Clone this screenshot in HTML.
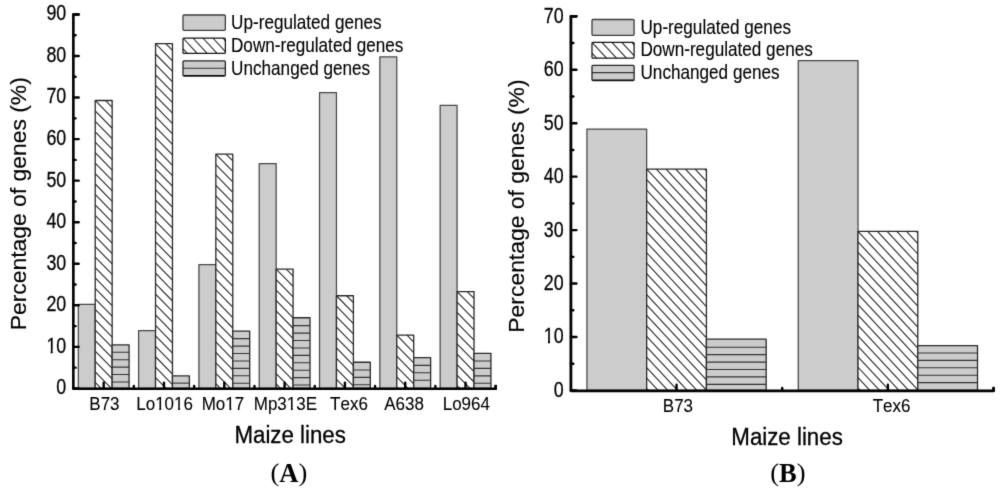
<!DOCTYPE html>
<html><head><meta charset="utf-8"><style>
html,body{margin:0;padding:0;background:#fff;}
body{width:1000px;height:490px;overflow:hidden;}
svg{display:block;}
</style></head><body>
<svg width="1000" height="490" viewBox="0 0 1000 490">
<defs><filter id="bl" x="0" y="0" width="1000" height="490" filterUnits="userSpaceOnUse" color-interpolation-filters="sRGB"><feConvolveMatrix order="3" kernelMatrix="0.01134 0.08382 0.01134 0.08382 0.61935 0.08382 0.01134 0.08382 0.01134" edgeMode="duplicate" preserveAlpha="true"/></filter></defs><g filter="url(#bl)">
<rect width="1000" height="490" fill="#fff"/>
<rect x="78.29" y="304.48" width="16.93" height="83.92" fill="#cccccc" stroke="#474747" stroke-width="1.25" stroke-linejoin="round"/>
<rect x="95.22" y="100.48" width="16.93" height="287.92" fill="#fff"/><path d="M95.22,382.35L101.12,388.40M95.22,371.91L111.32,388.40M95.22,361.47L112.15,378.80M95.22,351.03L112.15,368.36M95.22,340.59L112.15,357.92M95.22,330.15L112.15,347.48M95.22,319.71L112.15,337.04M95.22,309.27L112.15,326.60M95.22,298.83L112.15,316.16M95.22,288.39L112.15,305.72M95.22,277.95L112.15,295.28M95.22,267.51L112.15,284.84M95.22,257.07L112.15,274.40M95.22,246.64L112.15,263.96M95.22,236.20L112.15,253.52M95.22,225.76L112.15,243.08M95.22,215.32L112.15,232.64M95.22,204.88L112.15,222.20M95.22,194.44L112.15,211.76M95.22,184.00L112.15,201.32M95.22,173.56L112.15,190.89M95.22,163.12L112.15,180.45M95.22,152.68L112.15,170.01M95.22,142.24L112.15,159.57M95.22,131.80L112.15,149.13M95.22,121.36L112.15,138.69M95.22,110.92L112.15,128.25M95.22,100.48L112.15,117.81M105.42,100.48L112.15,107.37" stroke="#262626" stroke-width="1.08" fill="none"/><rect x="95.22" y="100.48" width="16.93" height="287.92" fill="none" stroke="#2a2a2a" stroke-width="1.3" stroke-linejoin="round"/>
<rect x="112.15" y="344.78" width="16.93" height="43.62" fill="#cccccc"/><path d="M112.15,352.28H129.08M112.15,359.70H129.08M112.15,367.12H129.08M112.15,374.54H129.08M112.15,381.96H129.08" stroke="#333333" stroke-width="1.1" fill="none"/><rect x="112.15" y="344.78" width="16.93" height="43.62" fill="none" stroke="#2a2a2a" stroke-width="1.3" stroke-linejoin="round"/>
<rect x="138.59" y="330.65" width="16.93" height="57.75" fill="#cccccc" stroke="#474747" stroke-width="1.25" stroke-linejoin="round"/>
<rect x="155.53" y="43.56" width="16.93" height="344.84" fill="#fff"/><path d="M155.53,388.07L155.85,388.40M155.53,377.63L166.05,388.40M155.53,367.19L172.46,384.52M155.53,356.75L172.46,374.08M155.53,346.31L172.46,363.64M155.53,335.87L172.46,353.20M155.53,325.43L172.46,342.76M155.53,314.99L172.46,332.32M155.53,304.55L172.46,321.88M155.53,294.11L172.46,311.44M155.53,283.67L172.46,301.00M155.53,273.23L172.46,290.56M155.53,262.79L172.46,280.12M155.53,252.35L172.46,269.68M155.53,241.91L172.46,259.24M155.53,231.47L172.46,248.80M155.53,221.03L172.46,238.36M155.53,210.60L172.46,227.92M155.53,200.16L172.46,217.48M155.53,189.72L172.46,207.04M155.53,179.28L172.46,196.60M155.53,168.84L172.46,186.16M155.53,158.40L172.46,175.72M155.53,147.96L172.46,165.28M155.53,137.52L172.46,154.85M155.53,127.08L172.46,144.41M155.53,116.64L172.46,133.97M155.53,106.20L172.46,123.53M155.53,95.76L172.46,113.09M155.53,85.32L172.46,102.65M155.53,74.88L172.46,92.21M155.53,64.44L172.46,81.77M155.53,54.00L172.46,71.33M155.53,43.56L172.46,60.89M165.72,43.56L172.46,50.45" stroke="#262626" stroke-width="1.08" fill="none"/><rect x="155.53" y="43.56" width="16.93" height="344.84" fill="none" stroke="#2a2a2a" stroke-width="1.3" stroke-linejoin="round"/>
<rect x="172.46" y="375.94" width="16.93" height="12.46" fill="#cccccc"/><path d="M172.46,383.14H189.39" stroke="#333333" stroke-width="1.1" fill="none"/><rect x="172.46" y="375.94" width="16.93" height="12.46" fill="none" stroke="#2a2a2a" stroke-width="1.3" stroke-linejoin="round"/>
<rect x="198.91" y="264.59" width="16.93" height="123.81" fill="#cccccc" stroke="#474747" stroke-width="1.25" stroke-linejoin="round"/>
<rect x="215.84" y="154.07" width="16.93" height="234.33" fill="#fff"/><path d="M215.84,383.75L220.38,388.40M215.84,373.31L230.58,388.40M215.84,362.87L232.77,380.20M215.84,352.43L232.77,369.76M215.84,341.99L232.77,359.32M215.84,331.55L232.77,348.88M215.84,321.11L232.77,338.44M215.84,310.67L232.77,328.00M215.84,300.23L232.77,317.56M215.84,289.79L232.77,307.12M215.84,279.35L232.77,296.68M215.84,268.91L232.77,286.24M215.84,258.47L232.77,275.80M215.84,248.03L232.77,265.36M215.84,237.59L232.77,254.92M215.84,227.15L232.77,244.48M215.84,216.71L232.77,234.04M215.84,206.27L232.77,223.60M215.84,195.83L232.77,213.16M215.84,185.39L232.77,202.72M215.84,174.95L232.77,192.28M215.84,164.51L232.77,181.84M215.84,154.07L232.77,171.40M226.03,154.07L232.77,160.96" stroke="#262626" stroke-width="1.08" fill="none"/><rect x="215.84" y="154.07" width="16.93" height="234.33" fill="none" stroke="#2a2a2a" stroke-width="1.3" stroke-linejoin="round"/>
<rect x="232.77" y="331.07" width="16.93" height="57.33" fill="#cccccc"/><path d="M232.77,338.67H249.70M232.77,346.09H249.70M232.77,353.51H249.70M232.77,360.93H249.70M232.77,368.35H249.70M232.77,375.77H249.70M232.77,383.19H249.70" stroke="#333333" stroke-width="1.1" fill="none"/><rect x="232.77" y="331.07" width="16.93" height="57.33" fill="none" stroke="#2a2a2a" stroke-width="1.3" stroke-linejoin="round"/>
<rect x="259.22" y="163.63" width="16.93" height="224.77" fill="#cccccc" stroke="#474747" stroke-width="1.25" stroke-linejoin="round"/>
<rect x="276.15" y="269.16" width="16.93" height="119.24" fill="#fff"/><path d="M276.15,384.00L280.45,388.40M276.15,373.56L290.65,388.40M276.15,363.12L293.07,380.45M276.15,352.68L293.07,370.01M276.15,342.24L293.07,359.57M276.15,331.80L293.07,349.13M276.15,321.36L293.07,338.69M276.15,310.92L293.07,328.25M276.15,300.48L293.07,317.81M276.15,290.04L293.07,307.37M276.15,279.60L293.07,296.93M276.15,269.16L293.07,286.49M286.35,269.16L293.07,276.05" stroke="#262626" stroke-width="1.08" fill="none"/><rect x="276.15" y="269.16" width="16.93" height="119.24" fill="none" stroke="#2a2a2a" stroke-width="1.3" stroke-linejoin="round"/>
<rect x="293.07" y="317.77" width="16.93" height="70.63" fill="#cccccc"/><path d="M293.07,325.67H310.00M293.07,333.09H310.00M293.07,340.51H310.00M293.07,347.93H310.00M293.07,355.35H310.00M293.07,362.77H310.00M293.07,370.19H310.00M293.07,377.61H310.00M293.07,385.03H310.00" stroke="#333333" stroke-width="1.1" fill="none"/><rect x="293.07" y="317.77" width="16.93" height="70.63" fill="none" stroke="#2a2a2a" stroke-width="1.3" stroke-linejoin="round"/>
<rect x="319.53" y="92.59" width="16.93" height="295.81" fill="#cccccc" stroke="#474747" stroke-width="1.25" stroke-linejoin="round"/>
<rect x="336.46" y="295.75" width="16.93" height="92.65" fill="#fff"/><path d="M336.46,379.27L345.38,388.40M336.46,368.83L353.38,386.16M336.46,358.39L353.38,375.72M336.46,347.95L353.38,365.28M336.46,337.51L353.38,354.84M336.46,327.07L353.38,344.40M336.46,316.63L353.38,333.96M336.46,306.19L353.38,323.52M336.46,295.75L353.38,313.08M346.66,295.75L353.38,302.64" stroke="#262626" stroke-width="1.08" fill="none"/><rect x="336.46" y="295.75" width="16.93" height="92.65" fill="none" stroke="#2a2a2a" stroke-width="1.3" stroke-linejoin="round"/>
<rect x="353.38" y="362.23" width="16.93" height="26.17" fill="#cccccc"/><path d="M353.38,369.93H370.31M353.38,377.35H370.31M353.38,384.77H370.31" stroke="#333333" stroke-width="1.1" fill="none"/><rect x="353.38" y="362.23" width="16.93" height="26.17" fill="none" stroke="#2a2a2a" stroke-width="1.3" stroke-linejoin="round"/>
<rect x="379.84" y="56.85" width="16.93" height="331.55" fill="#cccccc" stroke="#474747" stroke-width="1.25" stroke-linejoin="round"/>
<rect x="396.77" y="335.22" width="16.93" height="53.18" fill="#fff"/><path d="M396.77,387.42L397.72,388.40M396.77,376.98L407.92,388.40M396.77,366.54L413.69,383.87M396.77,356.10L413.69,373.43M396.77,345.66L413.69,362.99M396.77,335.22L413.69,352.55M406.97,335.22L413.69,342.11" stroke="#262626" stroke-width="1.08" fill="none"/><rect x="396.77" y="335.22" width="16.93" height="53.18" fill="none" stroke="#2a2a2a" stroke-width="1.3" stroke-linejoin="round"/>
<rect x="413.69" y="357.66" width="16.93" height="30.74" fill="#cccccc"/><path d="M413.69,365.36H430.62M413.69,372.78H430.62M413.69,380.20H430.62" stroke="#333333" stroke-width="1.1" fill="none"/><rect x="413.69" y="357.66" width="16.93" height="30.74" fill="none" stroke="#2a2a2a" stroke-width="1.3" stroke-linejoin="round"/>
<rect x="440.15" y="105.46" width="16.93" height="282.94" fill="#cccccc" stroke="#474747" stroke-width="1.25" stroke-linejoin="round"/>
<rect x="457.08" y="291.60" width="16.93" height="96.80" fill="#fff"/><path d="M457.08,385.55L459.86,388.40M457.08,375.11L470.06,388.40M457.08,364.67L474.00,382.00M457.08,354.23L474.00,371.56M457.08,343.79L474.00,361.12M457.08,333.35L474.00,350.68M457.08,322.91L474.00,340.24M457.08,312.47L474.00,329.80M457.08,302.04L474.00,319.36M457.08,291.60L474.00,308.92M467.28,291.60L474.00,298.48" stroke="#262626" stroke-width="1.08" fill="none"/><rect x="457.08" y="291.60" width="16.93" height="96.80" fill="none" stroke="#2a2a2a" stroke-width="1.3" stroke-linejoin="round"/>
<rect x="474.00" y="353.29" width="16.93" height="35.11" fill="#cccccc"/><path d="M474.00,360.99H490.94M474.00,368.41H490.94M474.00,375.83H490.94M474.00,383.25H490.94" stroke="#333333" stroke-width="1.1" fill="none"/><rect x="474.00" y="353.29" width="16.93" height="35.11" fill="none" stroke="#2a2a2a" stroke-width="1.3" stroke-linejoin="round"/>
<path d="M78.60,14.48L73.35,14.48L73.35,388.80L495.69,388.80L495.69,386.10" stroke="#000" stroke-width="2.6" fill="none" stroke-linejoin="round" stroke-linecap="round"/>
<path d="M73.35,388.40H78.70M73.35,367.63H75.60M73.35,346.85H78.70M73.35,326.08H75.60M73.35,305.31H78.70M73.35,284.53H75.60M73.35,263.76H78.70M73.35,242.99H75.60M73.35,222.21H78.70M73.35,201.44H75.60M73.35,180.66H78.70M73.35,159.89H75.60M73.35,139.12H78.70M73.35,118.34H75.60M73.35,97.57H78.70M73.35,76.80H75.60M73.35,56.02H78.70M73.35,35.25H75.60M73.35,14.48H78.70M103.68,388.80V382.60M133.84,388.80V386.00M163.99,388.80V382.60M194.15,388.80V386.00M224.30,388.80V382.60M254.46,388.80V386.00M284.61,388.80V382.60M314.76,388.80V386.00M344.92,388.80V382.60M375.07,388.80V386.00M405.23,388.80V382.60M435.39,388.80V386.00M465.54,388.80V382.60M495.69,388.80V386.00" stroke="#000" stroke-width="2.4" fill="none" stroke-linecap="round"/>
<text transform="translate(56.35,394.25) scale(0.84,1.0)" font-family="Liberation Sans" font-size="21.3" style="font-kerning:none" fill="#000" stroke="#000" stroke-width="0.25">0</text>
<text transform="translate(46.40,352.70) scale(0.84,1.0)" font-family="Liberation Sans" font-size="21.3" style="font-kerning:none" fill="#000" stroke="#000" stroke-width="0.25">10</text>
<text transform="translate(46.40,311.16) scale(0.84,1.0)" font-family="Liberation Sans" font-size="21.3" style="font-kerning:none" fill="#000" stroke="#000" stroke-width="0.25">20</text>
<text transform="translate(46.40,269.61) scale(0.84,1.0)" font-family="Liberation Sans" font-size="21.3" style="font-kerning:none" fill="#000" stroke="#000" stroke-width="0.25">30</text>
<text transform="translate(46.40,228.06) scale(0.84,1.0)" font-family="Liberation Sans" font-size="21.3" style="font-kerning:none" fill="#000" stroke="#000" stroke-width="0.25">40</text>
<text transform="translate(46.40,186.51) scale(0.84,1.0)" font-family="Liberation Sans" font-size="21.3" style="font-kerning:none" fill="#000" stroke="#000" stroke-width="0.25">50</text>
<text transform="translate(46.40,144.97) scale(0.84,1.0)" font-family="Liberation Sans" font-size="21.3" style="font-kerning:none" fill="#000" stroke="#000" stroke-width="0.25">60</text>
<text transform="translate(46.40,103.42) scale(0.84,1.0)" font-family="Liberation Sans" font-size="21.3" style="font-kerning:none" fill="#000" stroke="#000" stroke-width="0.25">70</text>
<text transform="translate(46.40,61.87) scale(0.84,1.0)" font-family="Liberation Sans" font-size="21.3" style="font-kerning:none" fill="#000" stroke="#000" stroke-width="0.25">80</text>
<text transform="translate(46.40,20.33) scale(0.84,1.0)" font-family="Liberation Sans" font-size="21.3" style="font-kerning:none" fill="#000" stroke="#000" stroke-width="0.25">90</text>
<text transform="translate(89.34,410.10) scale(0.905,1.0)" font-family="Liberation Sans" font-size="18.8" style="font-kerning:none" fill="#000" stroke="#000" stroke-width="0.1">B73</text>
<text transform="translate(136.24,410.10) scale(0.905,1.0)" font-family="Liberation Sans" font-size="18.8" style="font-kerning:none" fill="#000" stroke="#000" stroke-width="0.1">Lo1016</text>
<text transform="translate(201.70,410.10) scale(0.905,1.0)" font-family="Liberation Sans" font-size="18.8" style="font-kerning:none" fill="#000" stroke="#000" stroke-width="0.1">Mo17</text>
<text transform="translate(253.73,410.10) scale(0.905,1.0)" font-family="Liberation Sans" font-size="18.8" style="font-kerning:none" fill="#000" stroke="#000" stroke-width="0.1">Mp313E</text>
<text transform="translate(330.12,410.10) scale(0.905,1.0)" font-family="Liberation Sans" font-size="18.8" style="font-kerning:none" fill="#000" stroke="#000" stroke-width="0.1">Tex6</text>
<text transform="translate(384.24,410.10) scale(0.905,1.0)" font-family="Liberation Sans" font-size="18.8" style="font-kerning:none" fill="#000" stroke="#000" stroke-width="0.1">A638</text>
<text transform="translate(442.70,410.10) scale(0.905,1.0)" font-family="Liberation Sans" font-size="18.8" style="font-kerning:none" fill="#000" stroke="#000" stroke-width="0.1">Lo964</text>
<text transform="translate(234.43,442.80) scale(0.91,1.0)" font-family="Liberation Sans" font-size="24.5" style="font-kerning:none" fill="#000" stroke="#000" stroke-width="0.3">Maize lines</text>
<text transform="translate(26.10,330.34) scale(0.955,1) rotate(-90)" font-family="Liberation Sans" font-size="22.9" style="font-kerning:none" stroke="#000" stroke-width="0.15">Percentage of genes (%)</text>
<rect x="183.00" y="15.00" width="42.35" height="15.35" fill="#cccccc" stroke="#3c3c3c" stroke-width="1.3" rx="1" stroke-linejoin="round"/>
<text transform="translate(231.08,28.85) scale(0.849,1.0)" font-family="Liberation Sans" font-size="20.2" style="font-kerning:none" fill="#000" stroke="#000" stroke-width="0.12">Up-regulated genes</text>
<rect x="183.00" y="38.00" width="42.35" height="15.45" fill="#fff" rx="1"/><path d="M183.00,48.85L187.22,53.45M183.00,38.00L197.17,53.45M192.95,38.00L207.12,53.45M202.90,38.00L217.07,53.45M212.85,38.00L225.35,51.62M222.80,38.00L225.35,40.78" stroke="#262626" stroke-width="1.08" fill="none"/><rect x="183.00" y="38.00" width="42.35" height="15.45" fill="none" stroke="#151515" stroke-width="1.25" rx="1" stroke-linejoin="round"/>
<text transform="translate(230.99,51.90) scale(0.849,1.0)" font-family="Liberation Sans" font-size="20.2" style="font-kerning:none" fill="#000" stroke="#000" stroke-width="0.12">Down-regulated genes</text>
<rect x="183.00" y="60.90" width="42.35" height="15.20" fill="#cccccc" rx="1"/><path d="M183.0,68.20H225.35" stroke="#333333" stroke-width="1.1"/><rect x="183.00" y="60.90" width="42.35" height="15.20" fill="none" stroke="#222" stroke-width="1.3" rx="1" stroke-linejoin="round"/><path d="M183.80,75.50H224.55" stroke="#000" stroke-width="1.2"/>
<text transform="translate(231.08,74.95) scale(0.849,1.0)" font-family="Liberation Sans" font-size="20.2" style="font-kerning:none" fill="#000" stroke="#000" stroke-width="0.12">Unchanged genes</text>
<text transform="translate(270.50,481.22) scale(1,0.92)" font-family="Liberation Serif" font-size="26.5">(</text>
<text x="279.32" y="482.10" font-family="Liberation Serif" font-weight="bold" font-size="26.5">A</text>
<text transform="translate(298.46,481.22) scale(1,0.92)" font-family="Liberation Serif" font-size="26.5">)</text>
<rect x="586.92" y="129.08" width="59.75" height="261.37" fill="#cccccc" stroke="#474747" stroke-width="1.25" stroke-linejoin="round"/>
<rect x="646.67" y="169.17" width="59.75" height="221.28" fill="#fff"/><path d="M646.67,388.56L648.43,390.45M646.67,378.11L658.13,390.45M646.67,367.66L667.83,390.45M646.67,357.22L677.53,390.45M646.67,346.77L687.23,390.45M646.67,336.32L696.93,390.45M646.67,325.87L706.42,390.23M646.67,315.43L706.42,379.78M646.67,304.98L706.42,369.33M646.67,294.53L706.42,358.88M646.67,284.09L706.42,348.44M646.67,273.64L706.42,337.99M646.67,263.19L706.42,327.54M646.67,252.75L706.42,317.10M646.67,242.30L706.42,306.65M646.67,231.85L706.42,296.20M646.67,221.41L706.42,285.76M646.67,210.96L706.42,275.31M646.67,200.51L706.42,264.86M646.67,190.06L706.42,254.42M646.67,179.62L706.42,243.97M646.67,169.17L706.42,233.52M656.38,169.17L706.42,223.07M666.07,169.17L706.42,212.63M675.77,169.17L706.42,202.18M685.47,169.17L706.42,191.73M695.17,169.17L706.42,181.29M704.88,169.17L706.42,170.84" stroke="#262626" stroke-width="1.08" fill="none"/><rect x="646.67" y="169.17" width="59.75" height="221.28" fill="none" stroke="#2a2a2a" stroke-width="1.3" stroke-linejoin="round"/>
<rect x="706.42" y="339.14" width="59.75" height="51.31" fill="#cccccc"/><path d="M706.42,347.24H766.17M706.42,354.66H766.17M706.42,362.08H766.17M706.42,369.50H766.17M706.42,376.92H766.17M706.42,384.34H766.17" stroke="#333333" stroke-width="1.1" fill="none"/><rect x="706.42" y="339.14" width="59.75" height="51.31" fill="none" stroke="#2a2a2a" stroke-width="1.3" stroke-linejoin="round"/>
<rect x="798.27" y="60.67" width="59.75" height="329.78" fill="#cccccc" stroke="#474747" stroke-width="1.25" stroke-linejoin="round"/>
<rect x="858.02" y="231.44" width="59.75" height="159.01" fill="#fff"/><path d="M858.02,388.14L860.17,390.45M858.02,377.70L869.87,390.45M858.02,367.25L879.57,390.45M858.02,356.80L889.27,390.45M858.02,346.36L898.97,390.45M858.02,335.91L908.67,390.45M858.02,325.46L917.77,389.81M858.02,315.01L917.77,379.37M858.02,304.57L917.77,368.92M858.02,294.12L917.77,358.47M858.02,283.67L917.77,348.02M858.02,273.23L917.77,337.58M858.02,262.78L917.77,327.13M858.02,252.33L917.77,316.68M858.02,241.89L917.77,306.24M858.02,231.44L917.77,295.79M867.73,231.44L917.77,285.34M877.42,231.44L917.77,274.90M887.12,231.44L917.77,264.45M896.82,231.44L917.77,254.00M906.52,231.44L917.77,243.56M916.23,231.44L917.77,233.11" stroke="#262626" stroke-width="1.08" fill="none"/><rect x="858.02" y="231.44" width="59.75" height="159.01" fill="none" stroke="#2a2a2a" stroke-width="1.3" stroke-linejoin="round"/>
<rect x="917.77" y="345.55" width="59.75" height="44.90" fill="#cccccc"/><path d="M917.77,352.95H977.52M917.77,360.37H977.52M917.77,367.79H977.52M917.77,375.21H977.52M917.77,382.63H977.52" stroke="#333333" stroke-width="1.1" fill="none"/><rect x="917.77" y="345.55" width="59.75" height="44.90" fill="none" stroke="#2a2a2a" stroke-width="1.3" stroke-linejoin="round"/>
<path d="M576.25,16.31L570.90,16.31L570.90,390.85L993.57,390.85L993.57,388.25" stroke="#000" stroke-width="2.8" fill="none" stroke-linejoin="round" stroke-linecap="round"/>
<path d="M570.90,390.45H576.45M570.90,363.73H573.35M570.90,337.00H576.45M570.90,310.28H573.35M570.90,283.55H576.45M570.90,256.83H573.35M570.90,230.10H576.45M570.90,203.38H573.35M570.90,176.65H576.45M570.90,149.93H573.35M570.90,123.20H576.45M570.90,96.48H573.35M570.90,69.76H576.45M570.90,43.03H573.35M570.90,16.31H576.45M676.55,390.85V384.65M782.22,390.85V388.05M887.90,390.85V384.65M993.57,390.85V388.05" stroke="#000" stroke-width="2.4" fill="none" stroke-linecap="round"/>
<text transform="translate(553.65,396.85) scale(0.84,1.0)" font-family="Liberation Sans" font-size="21.3" style="font-kerning:none" fill="#000" stroke="#000" stroke-width="0.25">0</text>
<text transform="translate(543.70,343.40) scale(0.84,1.0)" font-family="Liberation Sans" font-size="21.3" style="font-kerning:none" fill="#000" stroke="#000" stroke-width="0.25">10</text>
<text transform="translate(543.70,289.95) scale(0.84,1.0)" font-family="Liberation Sans" font-size="21.3" style="font-kerning:none" fill="#000" stroke="#000" stroke-width="0.25">20</text>
<text transform="translate(543.70,236.50) scale(0.84,1.0)" font-family="Liberation Sans" font-size="21.3" style="font-kerning:none" fill="#000" stroke="#000" stroke-width="0.25">30</text>
<text transform="translate(543.70,183.05) scale(0.84,1.0)" font-family="Liberation Sans" font-size="21.3" style="font-kerning:none" fill="#000" stroke="#000" stroke-width="0.25">40</text>
<text transform="translate(543.70,129.60) scale(0.84,1.0)" font-family="Liberation Sans" font-size="21.3" style="font-kerning:none" fill="#000" stroke="#000" stroke-width="0.25">50</text>
<text transform="translate(543.70,76.16) scale(0.84,1.0)" font-family="Liberation Sans" font-size="21.3" style="font-kerning:none" fill="#000" stroke="#000" stroke-width="0.25">60</text>
<text transform="translate(543.70,22.71) scale(0.84,1.0)" font-family="Liberation Sans" font-size="21.3" style="font-kerning:none" fill="#000" stroke="#000" stroke-width="0.25">70</text>
<text transform="translate(662.84,411.80) scale(0.905,1.0)" font-family="Liberation Sans" font-size="18.8" style="font-kerning:none" fill="#000" stroke="#000" stroke-width="0.1">B73</text>
<text transform="translate(872.67,411.80) scale(0.905,1.0)" font-family="Liberation Sans" font-size="18.8" style="font-kerning:none" fill="#000" stroke="#000" stroke-width="0.1">Tex6</text>
<text transform="translate(731.33,444.60) scale(0.91,1.0)" font-family="Liberation Sans" font-size="24.5" style="font-kerning:none" fill="#000" stroke="#000" stroke-width="0.3">Maize lines</text>
<text transform="translate(523.70,332.64) scale(0.955,1) rotate(-90)" font-family="Liberation Sans" font-size="22.9" style="font-kerning:none" stroke="#000" stroke-width="0.15">Percentage of genes (%)</text>
<rect x="592.00" y="19.50" width="42.10" height="15.85" fill="#cccccc" stroke="#3c3c3c" stroke-width="1.3" rx="1" stroke-linejoin="round"/>
<text transform="translate(640.48,33.95) scale(0.849,1.0)" font-family="Liberation Sans" font-size="20.2" style="font-kerning:none" fill="#000" stroke="#000" stroke-width="0.12">Up-regulated genes</text>
<rect x="592.00" y="42.30" width="42.10" height="15.85" fill="#fff" rx="1"/><path d="M592.00,53.15L596.59,58.15M592.00,42.30L606.54,58.15M601.95,42.30L616.49,58.15M611.90,42.30L626.44,58.15M621.85,42.30L634.10,55.65M631.80,42.30L634.10,44.81" stroke="#262626" stroke-width="1.08" fill="none"/><rect x="592.00" y="42.30" width="42.10" height="15.85" fill="none" stroke="#151515" stroke-width="1.25" rx="1" stroke-linejoin="round"/>
<text transform="translate(640.39,56.35) scale(0.849,1.0)" font-family="Liberation Sans" font-size="20.2" style="font-kerning:none" fill="#000" stroke="#000" stroke-width="0.12">Down-regulated genes</text>
<rect x="592.00" y="65.30" width="42.10" height="15.30" fill="#cccccc" rx="1"/><path d="M592.0,72.65H634.1" stroke="#333333" stroke-width="1.1"/><rect x="592.00" y="65.30" width="42.10" height="15.30" fill="none" stroke="#222" stroke-width="1.3" rx="1" stroke-linejoin="round"/><path d="M592.80,80.00H633.30" stroke="#000" stroke-width="1.2"/>
<text transform="translate(640.48,79.35) scale(0.849,1.0)" font-family="Liberation Sans" font-size="20.2" style="font-kerning:none" fill="#000" stroke="#000" stroke-width="0.12">Unchanged genes</text>
<text transform="translate(770.30,480.82) scale(1,0.92)" font-family="Liberation Serif" font-size="26.5">(</text>
<text x="779.12" y="481.70" font-family="Liberation Serif" font-weight="bold" font-size="26.5">B</text>
<text transform="translate(796.80,480.82) scale(1,0.92)" font-family="Liberation Serif" font-size="26.5">)</text>
<rect x="46.57" y="350.21" width="4.12" height="3.95" fill="#fff"/>
<rect x="52.68" y="350.21" width="3.97" height="3.95" fill="#fff"/>
<rect x="155.33" y="407.90" width="3.92" height="3.49" fill="#fff"/>
<rect x="161.14" y="407.90" width="3.77" height="3.49" fill="#fff"/>
<rect x="174.25" y="407.90" width="3.92" height="3.49" fill="#fff"/>
<rect x="180.06" y="407.90" width="3.77" height="3.49" fill="#fff"/>
<rect x="225.50" y="407.90" width="3.92" height="3.49" fill="#fff"/>
<rect x="231.31" y="407.90" width="3.77" height="3.49" fill="#fff"/>
<rect x="287.00" y="407.90" width="3.92" height="3.49" fill="#fff"/>
<rect x="292.80" y="407.90" width="3.77" height="3.49" fill="#fff"/>
<rect x="543.87" y="340.90" width="4.12" height="3.95" fill="#fff"/>
<rect x="549.98" y="340.90" width="3.97" height="3.95" fill="#fff"/>
</g>
</svg>
</body></html>
